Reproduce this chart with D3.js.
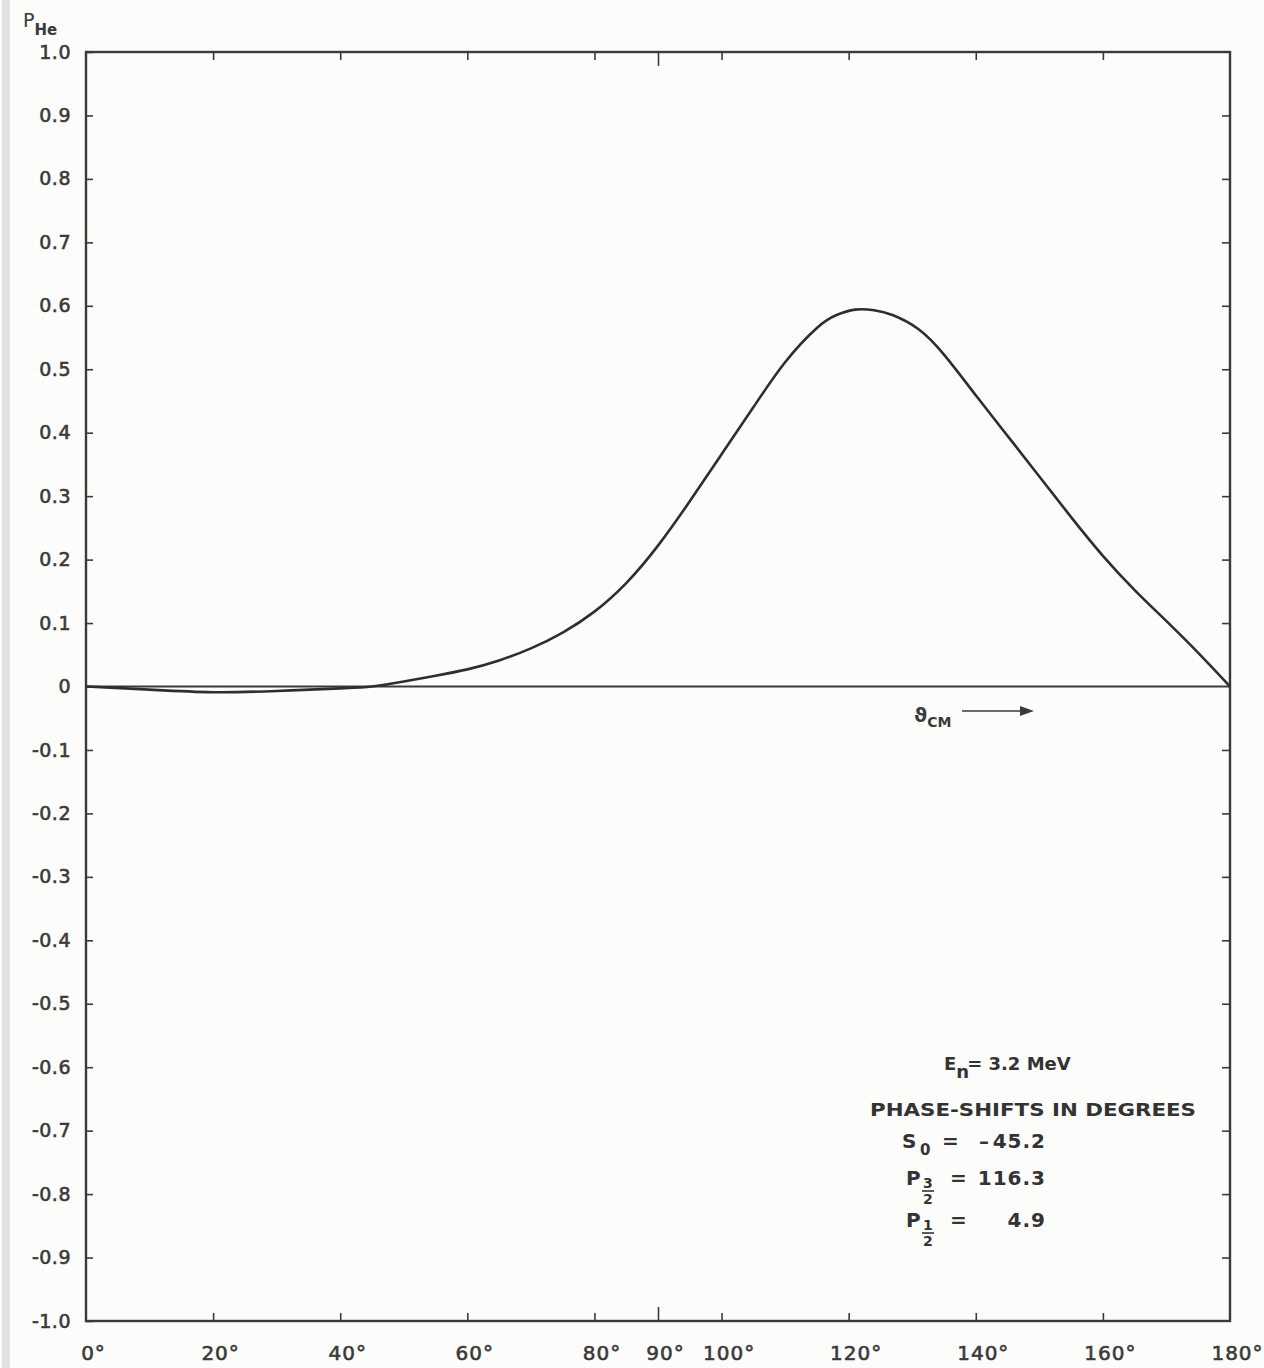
<!DOCTYPE html>
<html><head><meta charset="utf-8">
<script src="https://cdn.jsdelivr.net/npm/d3@7"></script>
<style>
html,body{margin:0;padding:0;background:#fcfcfa;}
svg text{font-family:"DejaVu Sans",sans-serif;}
</style></head>
<body>
<svg id="chart" width="1264" height="1368"></svg>
<script>
// ---- data ----
const angles = [0,10,20,30,40,45,50,55,60,65,70,75,80,85,90,95,100,105,110,115,118,121,124,127,131,135,140,145,150,155,160,165,170,175,180];
const pHe    = [0,-0.005,-0.009,-0.007,-0.003,0,0.008,0.017,0.027,0.041,0.06,0.085,0.118,0.163,0.222,0.292,0.366,0.44,0.511,0.565,0.585,0.594,0.593,0.585,0.563,0.523,0.459,0.395,0.331,0.267,0.206,0.152,0.103,0.053,0];
const yTicks = [1.0,0.9,0.8,0.7,0.6,0.5,0.4,0.3,0.2,0.1,0,-0.1,-0.2,-0.3,-0.4,-0.5,-0.6,-0.7,-0.8,-0.9,-1.0];
const yTickLabels = ["1.0","0.9","0.8","0.7","0.6","0.5","0.4","0.3","0.2","0.1","0","-0.1","-0.2","-0.3","-0.4","-0.5","-0.6","-0.7","-0.8","-0.9","-1.0"];
const xTicks = [0,20,40,60,80,90,100,120,140,160,180];
const xTickLabels = ["0°","20°","40°","60°","80°","90°","100°","120°","140°","160°","180°"];
const energyText = "= 3.2 MeV";
const phaseTitle = "PHASE-SHIFTS  IN DEGREES";
const phaseNames = ["S","P","P"];
const phaseSubs = ["0","3/2","1/2"];
const phaseValues = ["-45.2","116.3","4.9"];

const svg = d3.select("#chart");
const L=86, R=1230, T=52, B=1321;
const x = d3.scaleLinear().domain([0,180]).range([L,R]);
const y = d3.scaleLinear().domain([-1,1]).range([B,T]);
const ink = "#3a3a3a";

// page edge strip
svg.append("rect").attr("x",2).attr("y",0).attr("width",8).attr("height",1368).attr("fill","#e2e2e0");

// frame
svg.append("rect").attr("x",L).attr("y",T).attr("width",R-L).attr("height",B-T)
  .attr("fill","none").attr("stroke",ink).attr("stroke-width",2.4);

// zero line
svg.append("line").attr("x1",L).attr("x2",R).attr("y1",y(0)).attr("y2",y(0))
  .attr("stroke",ink).attr("stroke-width",2);

// left axis
const yl = d3.axisLeft(y).tickValues(yTicks).tickSize(-7).tickPadding(14)
  .tickFormat((d,i)=>yTickLabels[i]);
const gl = svg.append("g").attr("transform",`translate(${L},0)`).call(yl);
gl.select(".domain").remove();
gl.selectAll(".tick line").attr("stroke",ink).attr("stroke-width",1.6);
gl.selectAll(".tick text").attr("fill",ink).attr("font-size",19).attr("dx",-1)
  .attr("stroke",ink).attr("stroke-width",0.6).attr("letter-spacing","0.5px");

// right axis ticks
const yr = d3.axisRight(y).tickValues(yTicks.filter(d=>d!==0 && Math.abs(d)!==1)).tickSize(-8).tickFormat("");
const gr = svg.append("g").attr("transform",`translate(${R},0)`).call(yr);
gr.select(".domain").remove();
gr.selectAll(".tick line").attr("stroke",ink).attr("stroke-width",1.6);

// bottom axis
const xb = d3.axisBottom(x).tickValues(xTicks).tickSize(0).tickFormat("");
const gb = svg.append("g").attr("transform",`translate(0,${B})`).call(xb);
gb.select(".domain").remove();
gb.selectAll(".tick").append("line").attr("y1",0)
  .attr("y2",d=>(d===0||d===180)?0:(d===90?-14:-8)).attr("stroke",ink).attr("stroke-width",1.6);
gb.selectAll(".tick").append("text").attr("y",39).attr("x",7).attr("text-anchor","middle")
  .attr("fill",ink).attr("stroke",ink).attr("stroke-width",0.6)
  .attr("font-size",20).attr("letter-spacing","1px")
  .text((d,i)=>xTickLabels[i]);

// top axis ticks
const xt = d3.axisTop(x).tickValues(xTicks.filter(d=>d>0&&d<180)).tickSize(0).tickFormat("");
const gt = svg.append("g").attr("transform",`translate(0,${T})`).call(xt);
gt.select(".domain").remove();
gt.selectAll(".tick").append("line").attr("y1",0).attr("y2",d=>d===90?14:8)
  .attr("stroke",ink).attr("stroke-width",1.6);

// curve
const pts = angles.map((a,i)=>[a,pHe[i]]);
const line = d3.line().x(d=>x(d[0])).y(d=>y(d[1])).curve(d3.curveNatural);
svg.append("path").datum(pts).attr("d",line).attr("fill","none")
  .attr("stroke","#2e2e2e").attr("stroke-width",2.6);

// axis title P_He
const ttl = svg.append("text").attr("x",23).attr("y",27).attr("fill",ink).attr("font-size",19);
ttl.append("tspan").text("P");
ttl.append("tspan").attr("dy",8).attr("font-size",15).attr("font-weight","bold").text("He");

// theta_CM with arrow
const th = svg.append("text").attr("x",914).attr("y",722).attr("fill",ink).attr("font-size",20).attr("font-weight","bold");
th.append("tspan").text("ϑ");
th.append("tspan").attr("dy",5).attr("font-size",14).text("CM");
svg.append("line").attr("x1",962).attr("x2",1022).attr("y1",711).attr("y2",711).attr("stroke",ink).attr("stroke-width",1.6);
svg.append("path").attr("d","M1034,711 L1020,706 L1020,716 Z").attr("fill",ink);

// legend block
const lg = svg.append("g").attr("fill","#333").attr("font-weight","bold");
const e = lg.append("text").attr("x",944).attr("y",1070).attr("font-size",18);
e.append("tspan").text("E");
e.append("tspan").attr("dy",8).text("n");
e.append("tspan").attr("dy",-8).attr("dx",-2).text(energyText);
lg.append("text").attr("x",870).attr("y",1116).attr("font-size",18)
  .attr("textLength",326).attr("lengthAdjust","spacingAndGlyphs").text(phaseTitle);

const rowsY = [1148,1185,1227];
phaseNames.forEach((n,i)=>{
  const yy = rowsY[i];
  const px = i===0?902:906;
  lg.append("text").attr("x",px).attr("y",yy).attr("font-size",20).text(n);
  if(i===0){
    lg.append("text").attr("x",920).attr("y",yy+7).attr("font-size",15).text(phaseSubs[i]);
  } else {
    const parts = phaseSubs[i].split("/");
    lg.append("text").attr("x",923).attr("y",yy+3).attr("font-size",14).text(parts[0]);
    lg.append("line").attr("x1",922).attr("x2",934).attr("y1",yy+6).attr("y2",yy+6).attr("stroke","#333").attr("stroke-width",1.6);
    lg.append("text").attr("x",923).attr("y",yy+19).attr("font-size",14).text(parts[1]);
  }
  lg.append("text").attr("x",i===0?942:950).attr("y",yy).attr("font-size",20).text("=");
  const v = phaseValues[i];
  if (v.startsWith("-")) {
    lg.append("text").attr("x",979).attr("y",yy).attr("font-size",20).text("–");
    lg.append("text").attr("x",1046).attr("y",yy).attr("font-size",20).attr("text-anchor","end")
      .attr("letter-spacing","1px").text(v.slice(1));
  } else {
    lg.append("text").attr("x",1046).attr("y",yy).attr("font-size",20).attr("text-anchor","end")
      .attr("letter-spacing","1px").text(v);
  }
});
</script>
</body></html>
